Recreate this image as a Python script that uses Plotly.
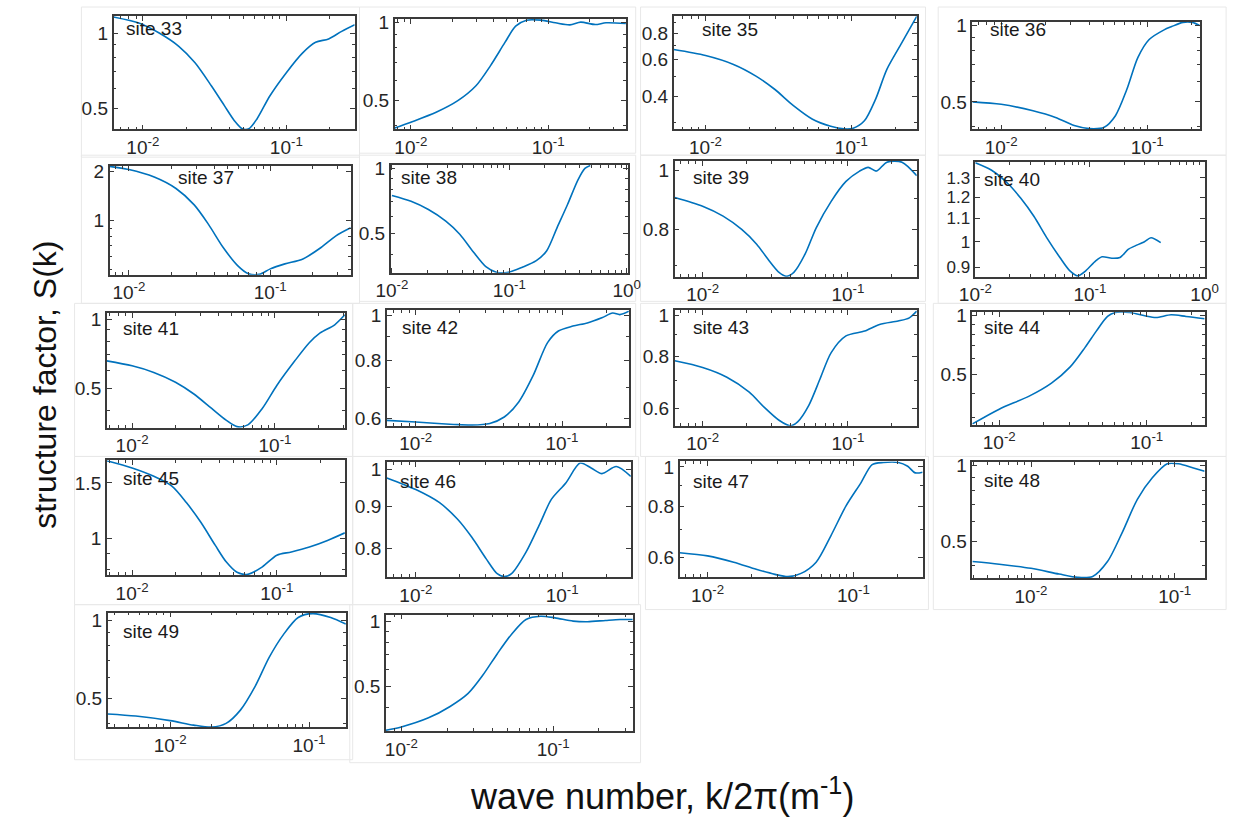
import math
import plotly.graph_objects as go

# ---------------- data ----------------
site_labels = ["site 33", "", "site 35", "site 36", "site 37", "site 38", "site 39", "site 40",
               "site 41", "site 42", "site 43", "site 44", "site 45", "site 46", "site 47", "site 48",
               "site 49", ""]

k33 = [0.00624, 0.00948, 0.0130, 0.0178, 0.0231, 0.0300, 0.0370, 0.0433, 0.0493, 0.0548, 0.0624, 0.0769, 0.100, 0.130, 0.160, 0.197, 0.243, 0.300]
s33 = [1.16, 1.095, 1.0, 0.885, 0.760, 0.615, 0.512, 0.447, 0.414, 0.414, 0.453, 0.561, 0.694, 0.833, 0.918, 0.947, 1.015, 1.079]

k34 = [0.00762, 0.0100, 0.01528, 0.02198, 0.02979, 0.03793, 0.04831, 0.05794, 0.0695, 0.0885, 0.1130, 0.1439, 0.1726, 0.2198, 0.2636, 0.368]
s34 = [0.392, 0.413, 0.451, 0.500, 0.571, 0.682, 0.838, 0.971, 1.024, 1.024, 1.0, 0.982, 1.006, 0.985, 1.0, 0.994]

k35 = [0.00605, 0.0100, 0.01556, 0.02218, 0.02979, 0.04009, 0.05383, 0.07228, 0.08892, 0.1030, 0.1230, 0.1469, 0.1754, 0.2218, 0.2812]
s35 = [0.668, 0.626, 0.568, 0.500, 0.433, 0.362, 0.313, 0.289, 0.281, 0.283, 0.307, 0.389, 0.538, 0.718, 0.96]

k36 = [0.00635, 0.0100, 0.01652, 0.02355, 0.03162, 0.04009, 0.0507, 0.06053, 0.07228, 0.0863, 0.1030, 0.1303, 0.1469, 0.1754, 0.2032, 0.2286]
s36 = [0.500, 0.489, 0.461, 0.434, 0.403, 0.392, 0.397, 0.441, 0.558, 0.749, 0.881, 0.962, 0.991, 1.03, 1.03, 1.0]

k37 = [0.00731, 0.0100, 0.0151, 0.02153, 0.02897, 0.03664, 0.04645, 0.05875, 0.07015, 0.08375, 0.1, 0.1268, 0.1702, 0.2286, 0.2897, 0.3707]
s37 = [2.15, 2.056, 1.849, 1.573, 1.248, 0.945, 0.684, 0.530, 0.472, 0.468, 0.506, 0.543, 0.582, 0.684, 0.804, 0.903]

k38 = [0.0100, 0.01455, 0.02046, 0.02877, 0.03784, 0.04966, 0.0631, 0.07745, 0.0984, 0.1291, 0.1698, 0.2084, 0.2553, 0.3133, 0.3846, 0.4406, 0.4887]
s38 = [0.750, 0.705, 0.646, 0.571, 0.497, 0.410, 0.352, 0.332, 0.332, 0.350, 0.375, 0.417, 0.533, 0.681, 0.885, 1.0, 1.03]

k39 = [0.00643, 0.0100, 0.01384, 0.01858, 0.02355, 0.02812, 0.03357, 0.03776, 0.04246, 0.0507, 0.06053, 0.07674, 0.09705, 0.1204, 0.1380, 0.1570, 0.1858, 0.2355, 0.2979]
s39 = [0.902, 0.873, 0.841, 0.800, 0.757, 0.716, 0.681, 0.671, 0.681, 0.729, 0.805, 0.889, 0.958, 0.996, 1.01, 0.996, 1.03, 1.03, 0.979]

k40 = [0.0100, 0.01387, 0.01923, 0.02495, 0.03243, 0.04207, 0.0547, 0.06653, 0.07834, 0.09226, 0.1122, 0.1276, 0.1552, 0.1828, 0.2153, 0.2455, 0.2985, 0.3404, 0.4140]
s40 = [1.383, 1.341, 1.270, 1.195, 1.110, 1.016, 0.937, 0.888, 0.869, 0.888, 0.924, 0.940, 0.934, 0.937, 0.969, 0.982, 1.0, 1.016, 0.996]

k41 = [0.00665, 0.0100, 0.01419, 0.02014, 0.02692, 0.03606, 0.0455, 0.0542, 0.06457, 0.08147, 0.1030, 0.1377, 0.1738, 0.2070, 0.2618, 0.3083]
s41 = [0.658, 0.626, 0.586, 0.531, 0.473, 0.408, 0.363, 0.340, 0.346, 0.408, 0.514, 0.658, 0.789, 0.871, 0.945, 1.044]

k42 = [0.00634, 0.0100, 0.01816, 0.02415, 0.03206, 0.04027, 0.05058, 0.06339, 0.07962, 0.09441, 0.1186, 0.1489, 0.1871, 0.2218, 0.2483, 0.2864]
s42 = [0.593, 0.588, 0.581, 0.579, 0.584, 0.603, 0.650, 0.741, 0.874, 0.926, 0.949, 0.964, 0.989, 1.013, 1.005, 1.022]

k43 = [0.00643, 0.0100, 0.01469, 0.02094, 0.02649, 0.03357, 0.04009, 0.04508, 0.05383, 0.06427, 0.07674, 0.09705, 0.1303, 0.1652, 0.2218, 0.2649, 0.2979]
s43 = [0.780, 0.752, 0.713, 0.657, 0.605, 0.563, 0.546, 0.558, 0.611, 0.706, 0.816, 0.894, 0.918, 0.952, 0.970, 0.987, 1.024]

k44 = [0.00658, 0.0100, 0.01596, 0.0226, 0.03027, 0.03819, 0.0455, 0.0542, 0.06095, 0.07691, 0.09705, 0.1156, 0.1462, 0.1845, 0.2466]
s44 = [0.279, 0.332, 0.387, 0.451, 0.546, 0.687, 0.832, 0.989, 1.035, 1.035, 0.996, 0.977, 1.008, 0.989, 0.962]

k45 = [0.00668, 0.0100, 0.01413, 0.01884, 0.02371, 0.02985, 0.03758, 0.04467, 0.05309, 0.0631, 0.07943, 0.1, 0.1259, 0.1679, 0.2239, 0.2951]
s45 = [1.76, 1.671, 1.573, 1.465, 1.30, 1.127, 0.953, 0.846, 0.784, 0.773, 0.816, 0.888, 0.909, 0.942, 0.988, 1.044]

k46 = [0.00634, 0.0100, 0.01445, 0.01923, 0.02415, 0.03027, 0.03597, 0.04027, 0.04508, 0.05662, 0.07112, 0.08433, 0.1059, 0.1327, 0.1578, 0.1871, 0.2344, 0.2944]
s46 = [0.977, 0.945, 0.911, 0.869, 0.825, 0.776, 0.744, 0.738, 0.744, 0.791, 0.861, 0.919, 0.963, 1.019, 1.005, 0.989, 1.009, 0.981]

k47 = [0.00643, 0.0100, 0.0151, 0.02153, 0.02897, 0.03556, 0.04375, 0.05546, 0.07015, 0.08892, 0.1125, 0.1343, 0.1603, 0.2032, 0.2355, 0.2649, 0.2979]
s47 = [0.615, 0.604, 0.583, 0.560, 0.544, 0.537, 0.547, 0.583, 0.678, 0.802, 0.914, 1.013, 1.026, 1.026, 1.004, 0.967, 0.971]

k48 = [0.00391, 0.00601, 0.0100, 0.01567, 0.02113, 0.02685, 0.03404, 0.04325, 0.05495, 0.06982, 0.08872, 0.1062, 0.1349, 0.1614]
s48 = [0.415, 0.405, 0.390, 0.370, 0.359, 0.362, 0.415, 0.544, 0.735, 0.895, 1.018, 1.018, 0.979, 0.950]

k49 = [0.00356, 0.00566, 0.0100, 0.01476, 0.01991, 0.02529, 0.03206, 0.04074, 0.05176, 0.06577, 0.08356, 0.1062, 0.1432, 0.1841]
s49 = [0.436, 0.428, 0.411, 0.395, 0.388, 0.401, 0.451, 0.554, 0.721, 0.884, 1.024, 1.06, 1.024, 0.966]

k50 = [0.00791, 0.0100, 0.0151, 0.02094, 0.02754, 0.03436, 0.04276, 0.05321, 0.06622, 0.0826, 0.1028, 0.1352, 0.1683, 0.2213, 0.2754, 0.3342]
s50 = [0.316, 0.327, 0.360, 0.406, 0.466, 0.564, 0.707, 0.871, 1.017, 1.053, 1.035, 1.0, 0.993, 1.007, 1.017, 1.017]

k_series = [k33, k34, k35, k36, k37, k38, k39, k40, k41, k42, k43, k44, k45, k46, k47, k48, k49, k50]
s_series = [s33, s34, s35, s36, s37, s38, s39, s40, s41, s42, s43, s44, s45, s46, s47, s48, s49, s50]

# y tick values (labels) for each panel
y_ticks = [[0.5, 1], [0.5, 1], [0.4, 0.6, 0.8], [0.5, 1], [1, 2], [0.5, 1], [0.8, 1],
           [0.9, 1, 1.1, 1.2, 1.3], [0.5, 1], [0.6, 0.8, 1], [0.6, 0.8, 1], [0.5, 1],
           [1, 1.5], [0.8, 0.9, 1], [0.6, 0.8, 1], [0.5, 1], [0.5, 1], [0.5, 1]]
x_ticks_main = [0.01, 0.1, 1]
x_tick_text = ["10<sup>-2</sup>", "10<sup>-1</sup>", "10<sup>0</sup>"]

# ---------------- layout (positions / ranges) ----------------
W, H = 1244, 822
boxes = [(100, 347, 9, 124), (388, 625, 12, 124), (674, 923, 9, 124), (980, 1213, 15, 124),
         (96, 343, 161, 271), (384, 627, 160, 269), (675, 923, 156, 273), (983, 1218, 157, 273),
         (93, 337, 310, 426), (380, 628, 307, 424), (675, 923, 307, 424), (980, 1218, 309, 423),
         (93, 337, 459, 575), (380, 630, 461, 577), (680, 929, 460, 577), (980, 1218, 461, 578),
         (94, 338, 613, 729), (379, 632, 615, 733)]
# light grey outlines of the pasted panel pictures
frames = [(67, 352, 0, 152), (352, 635, 0, 148), (640, 932, 0, 150), (945, 1240, 0, 150),
          (67, 352, 150, 300), (352, 635, 150, 298), (640, 932, 150, 298), (945, 1240, 150, 300),
          (60, 345, 300, 455), (345, 635, 300, 455), (640, 932, 300, 455), (940, 1240, 300, 455),
          (60, 345, 455, 605), (345, 638, 455, 605), (645, 935, 455, 610), (940, 1240, 455, 610),
          (60, 345, 605, 762), (342, 640, 605, 765)]
x_ranges = [(-2.204, -0.524), (-2.118, -0.434), (-2.218, -0.551), (-2.197, -0.641),
            (-2.136, -0.431), (-2.01, 0.01), (-2.192, -0.526), (-2.0, 0.0),
            (-2.177, -0.511), (-2.198, -0.543), (-2.192, -0.526), (-2.182, -0.608),
            (-2.175, -0.53), (-2.198, -0.531), (-2.192, -0.526), (-2.408, -0.792),
            (-2.449, -0.735), (-2.102, -0.476)]
y_ranges = [(0.411, 1.171), (0.387, 1.036), (0.279, 0.965), (0.389, 1.035),
            (0.466, 2.16), (0.33, 1.036), (0.670, 1.034), (0.866, 1.387),
            (0.336, 1.061), (0.577, 1.027), (0.546, 1.029), (0.276, 1.039),
            (0.769, 1.765), (0.737, 1.021), (0.536, 1.032), (0.357, 1.031),
            (0.388, 1.07), (0.313, 1.072)]
y_font = [19, 19, 19, 19, 19, 19, 19, 17, 19, 19, 19, 19, 19, 19, 19, 19, 19, 19]
label_pos = [(111, 22), None, (701, 23), (996, 23), (164, 173), (392, 173), (692, 173), (990, 175),
             (108, 325), (393, 324), (692, 324), (990, 324), (108, 477), (391, 480), (692, 480),
             (990, 479), (108, 632), None]

FONT = "Liberation Sans, Arial, sans-serif"
AX = "#3a3a3a"
LINE = "#0072BD"


def fmt(v):
    return ("%g" % v)


def minor_vals(lo, hi, skip):
    out = []
    for d in range(math.floor(lo) - 1, math.ceil(hi) + 1):
        for m in range(1, 10):
            v = m * 10 ** d
            lv = math.log10(v)
            if lo < lv < hi and all(abs(v - s) > 1e-9 for s in skip):
                out.append(v)
    return out


fig = go.Figure()
layout = dict(width=W, height=H, margin=dict(l=0, r=0, t=0, b=0),
              paper_bgcolor="white", plot_bgcolor="white", showlegend=False,
              font=dict(family=FONT, color="#262626"))
annotations = []
shapes = []

for fx0, fx1, fy0, fy1 in frames:
    shapes.append(dict(type="rect", xref="paper", yref="paper", x0=fx0 / W, x1=fx1 / W,
                       y0=1 - fy1 / H, y1=1 - fy0 / H, line=dict(color="#e8e8e8", width=1),
                       fillcolor="rgba(0,0,0,0)", layer="below"))

for i in range(18):
    n = "" if i == 0 else str(i + 1)
    x0, x1, y0, y1 = boxes[i]
    xr, yr = x_ranges[i], y_ranges[i]
    fig.add_trace(go.Scatter(x=k_series[i], y=s_series[i], mode="lines",
                             line=dict(color=LINE, width=1.6, shape="spline", smoothing=0.8),
                             xaxis="x" + n, yaxis="y" + n, hoverinfo="skip"))
    xt = [v for v in x_ticks_main if xr[0] - 0.02 <= math.log10(v) <= xr[1] + 0.02]
    xtt = [x_tick_text[x_ticks_main.index(v)] for v in xt]
    ylo, yhi = math.log10(yr[0]), math.log10(yr[1])
    layout["xaxis" + n] = dict(
        type="log", range=list(xr), domain=[x0 / W, x1 / W], anchor="y" + n,
        tickmode="array", tickvals=xt, ticktext=xtt, ticks="inside", ticklen=5,
        tickwidth=1, tickcolor=AX, showline=True, linecolor=AX, linewidth=1.5,
        mirror="ticks", showgrid=False, zeroline=False,
        tickfont=dict(size=19, family=FONT, color="#262626"),
        minor=dict(tickmode="array", tickvals=minor_vals(xr[0], xr[1], xt),
                   ticks="inside", ticklen=3, tickcolor=AX, showgrid=False))
    layout["yaxis" + n] = dict(
        type="log", range=[ylo, yhi], domain=[1 - y1 / H, 1 - y0 / H], anchor="x" + n,
        tickmode="array", tickvals=y_ticks[i], ticktext=[fmt(v) for v in y_ticks[i]],
        ticks="inside", ticklen=5, tickwidth=1, tickcolor=AX, showline=True,
        linecolor=AX, linewidth=1.5, mirror="ticks", showgrid=False, zeroline=False,
        tickfont=dict(size=y_font[i], family=FONT, color="#262626"),
        minor=dict(tickmode="array", tickvals=minor_vals(ylo, yhi, y_ticks[i]),
                   ticks="inside", ticklen=3, tickcolor=AX, showgrid=False))
    if label_pos[i] is not None:
        px, py = label_pos[i]
        annotations.append(dict(text=site_labels[i], x=px / W, y=1 - py / H, xref="paper",
                                yref="paper", xanchor="left", yanchor="middle", showarrow=False,
                                font=dict(size=19, family=FONT, color="#1a1a1a")))

annotations.append(dict(text="structure factor, S(k)", x=30 / W, y=1 - 382 / H, xref="paper",
                        yref="paper", textangle=-90, showarrow=False, xanchor="center",
                        yanchor="middle", font=dict(size=32, family=FONT, color="#111111")))
annotations.append(dict(text="wave number, k/2\u03c0(m<sup>-1</sup>)", x=662 / W, y=1 - 797 / H,
                        xref="paper", yref="paper", showarrow=False, xanchor="center",
                        yanchor="middle", font=dict(size=36, family=FONT, color="#111111")))
layout["annotations"] = annotations
layout["shapes"] = shapes
fig.update_layout(**layout)
fig.write_html("out.html")
